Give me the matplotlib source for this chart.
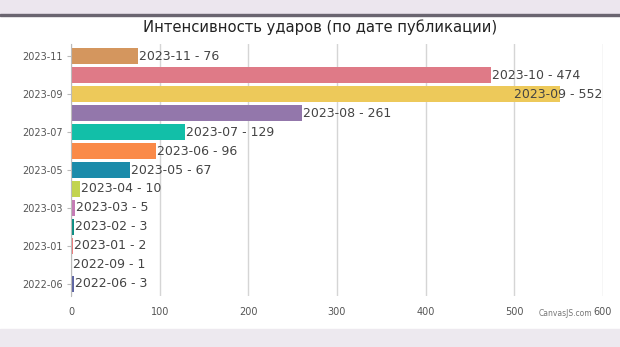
import matplotlib.pyplot as plt
import matplotlib.patches as mpatches

# données (de haut en bas dans le graphique)
mois = ["2023-11", "2023-10", "2023-09", "2023-08", "2023-07", "2023-06", "2023-05",
        "2023-04", "2023-03", "2023-02", "2023-01", "2022-09", "2022-06"]
valeurs = [76, 474, 552, 261, 129, 96, 67, 10, 5, 3, 2, 1, 3]
couleurs = ["#D4965E", "#DF7A87", "#EDC95A", "#9377AB", "#12BFA8", "#FA8A48", "#1B8BAA",
            "#C2D44F", "#C57BB5", "#0C8E83", "#EE7A7A", "#5CCFC2", "#5D65A3"]
graduations = ["2023-11", "2023-09", "2023-07", "2023-05", "2023-03", "2023-01", "2022-06"]
titre = "Интенсивность ударов (по дате публикации)"

fig = plt.figure(figsize=(6.2, 3.47), dpi=100)
fig.patch.set_facecolor("white")

# bandeaux gris en haut et en bas
fig.add_artist(mpatches.Rectangle((0, 1 - 14 / 347), 1, 14 / 347, transform=fig.transFigure,
                                  color="#ECE6EE", zorder=0))
fig.add_artist(mpatches.Rectangle((0, 1 - 16 / 347), 1, 2 / 347, transform=fig.transFigure,
                                  color="#6A6570", zorder=0))
fig.add_artist(mpatches.Rectangle((0, 0), 1, 18 / 347, transform=fig.transFigure,
                                  color="#EDE9EF", zorder=0))

ax = fig.add_axes([71 / 620, 1 - 296 / 347, (603 - 71) / 620, (296 - 44) / 347])
ax.set_facecolor("none")

n = len(mois)
pos = [n - 1 - i for i in range(n)]
ax.barh(pos, valeurs, height=0.84, color=couleurs, zorder=2)

ax.set_xlim(0, 600)
ax.set_ylim(-0.65, n - 0.35)
ax.set_xticks(range(0, 601, 100))
ax.tick_params(axis="x", length=0, labelsize=7, colors="#555555", pad=8)
ax.set_yticks([pos[mois.index(m)] for m in graduations])
ax.set_yticklabels(graduations)
ax.tick_params(axis="y", length=3, labelsize=7, colors="#555555", pad=3, color="#bbbbbb")
ax.grid(axis="x", color="#D5D5D5", linewidth=1, zorder=1)
for s in ["top", "right", "bottom"]:
    ax.spines[s].set_visible(False)
ax.spines["left"].set_color("#BBBBBB")

for p, m, v in zip(pos, mois, valeurs):
    texte = f"{m} - {v}"
    if v > 500:
        ax.text(599, p, texte, ha="right", va="center", fontsize=9, color="#444444", zorder=3)
    else:
        ax.text(v + 1, p, texte, ha="left", va="center", fontsize=9, color="#444444", zorder=3)

fig.text(320 / 620, 1 - 27 / 347, titre, ha="center", va="center", fontsize=11.8,
         color="#222222", family="DejaVu Sans", stretch="condensed")
fig.text(592 / 620, 1 - 313 / 347, "CanvasJS.com", ha="right", va="center", fontsize=5.5,
         color="#777777")

plt.savefig("out.png", dpi=100)
